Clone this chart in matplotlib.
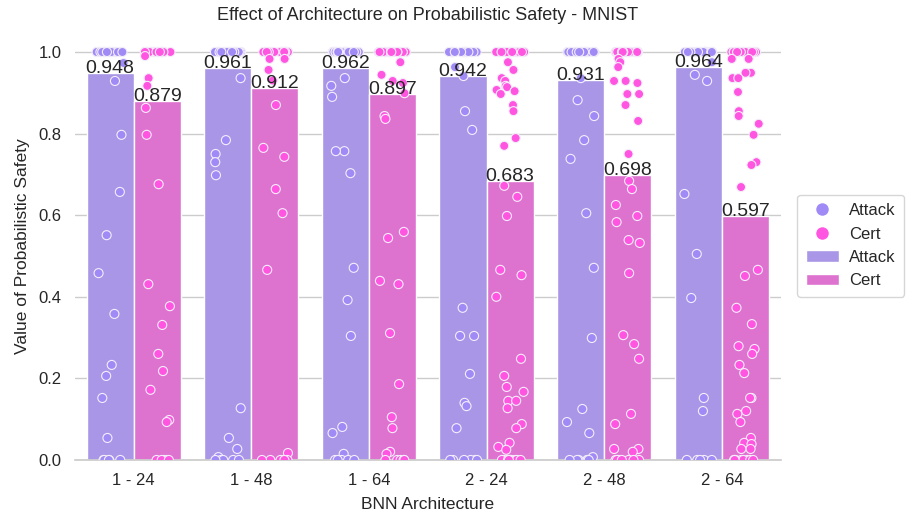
import numpy as np
import pandas as pd
import matplotlib
matplotlib.use("Agg")
import matplotlib.pyplot as plt
from matplotlib.lines import Line2D
from matplotlib.patches import Patch
import seaborn as sns

architectures = ["1 - 24", "1 - 48", "1 - 64", "2 - 24", "2 - 48", "2 - 64"]
attack_means = [0.948, 0.961, 0.962, 0.942, 0.931, 0.964]
cert_means = [0.879, 0.912, 0.897, 0.683, 0.698, 0.597]

# per-image safety values
attack_points = [
    [1.0] * 30 + [0.973, 0.929, 0.797, 0.657, 0.551, 0.458, 0.358, 0.233, 0.206, 0.152, 0.054] + [0.0] * 5,
    [1.0] * 30 + [0.936, 0.784, 0.75, 0.73, 0.698, 0.127, 0.054, 0.027, 0.007] + [0.0] * 5,
    [1.0] * 30 + [0.936, 0.917, 0.89, 0.757, 0.757, 0.703, 0.471, 0.392, 0.304, 0.081, 0.066, 0.015] + [0.0] * 5,
    [1.0] * 30 + [0.963, 0.941, 0.855, 0.809, 0.373, 0.304, 0.304, 0.211, 0.14, 0.132, 0.078] + [0.0] * 6,
    [1.0] * 30 + [0.936, 0.882, 0.843, 0.784, 0.738, 0.605, 0.471, 0.299, 0.125, 0.093, 0.066, 0.007] + [0.0] * 6,
    [1.0] * 30 + [0.975, 0.944, 0.929, 0.652, 0.505, 0.397, 0.152, 0.12] + [0.0] * 5,
]
cert_points = [
    [1.0] * 30 + [0.99, 0.936, 0.917, 0.863, 0.797, 0.676, 0.431, 0.377, 0.331, 0.26, 0.218, 0.172,
                  0.098, 0.093] + [0.0] * 6,
    [1.0] * 30 + [0.983, 0.983, 0.956, 0.93, 0.87, 0.765, 0.743, 0.664, 0.605, 0.466, 0.017] + [0.0] * 6,
    [1.0] * 30 + [0.975, 0.944, 0.929, 0.924, 0.899, 0.843, 0.836, 0.559, 0.544, 0.439, 0.431, 0.311,
                  0.186, 0.105, 0.078, 0.02, 0.015] + [0.0] * 6,
    [1.0] * 30 + [0.975, 0.956, 0.936, 0.929, 0.917, 0.914, 0.907, 0.904, 0.897, 0.87, 0.855, 0.789,
                  0.77, 0.672, 0.645, 0.598, 0.466, 0.453, 0.4, 0.248, 0.206, 0.179, 0.167, 0.145,
                  0.145, 0.127, 0.088, 0.078, 0.042, 0.032, 0.025] + [0.0] * 12,
    [1.0] * 30 + [0.983, 0.975, 0.963, 0.929, 0.929, 0.924, 0.897, 0.897, 0.87, 0.831, 0.75, 0.684,
                  0.664, 0.625, 0.598, 0.583, 0.539, 0.532, 0.458, 0.306, 0.284, 0.248, 0.113, 0.088,
                  0.027, 0.027, 0.02] + [0.0] * 10,
    [1.0] * 30 + [0.983, 0.983, 0.949, 0.949, 0.936, 0.936, 0.902, 0.855, 0.843, 0.824, 0.797, 0.73,
                  0.723, 0.669, 0.466, 0.451, 0.373, 0.333, 0.279, 0.272, 0.26, 0.233, 0.213, 0.152,
                  0.152, 0.12, 0.113, 0.093, 0.054, 0.042, 0.039, 0.027, 0.027] + [0.0] * 10,
]

bar_colors = {"Attack": "#a996e6", "Cert": "#de72cf"}
point_colors = {"Attack": "#a08af5", "Cert": "#ff55e0"}

sns.set_theme(style="whitegrid")
plt.rcParams["font.family"] = ["Liberation Sans", "DejaVu Sans"]

means_df = pd.DataFrame({
    "arch": architectures * 2,
    "method": ["Attack"] * 6 + ["Cert"] * 6,
    "value": attack_means + cert_means,
})
rows = []
for arch, pts in zip(architectures, attack_points):
    rows += [(arch, "Attack", v) for v in pts]
for arch, pts in zip(architectures, cert_points):
    rows += [(arch, "Cert", v) for v in pts]
points_df = pd.DataFrame(rows, columns=["arch", "method", "value"])

fig, ax = plt.subplots(figsize=(9.12, 5.18), dpi=100)
fig.subplots_adjust(left=0.082, right=0.856, bottom=0.112, top=0.939)

sns.barplot(data=means_df, x="arch", y="value", hue="method", order=architectures,
            hue_order=["Attack", "Cert"], palette=bar_colors, saturation=1,
            errorbar=None, edgecolor="white", linewidth=1, legend=False, ax=ax)

np.random.seed(3)
sns.stripplot(data=points_df, x="arch", y="value", hue="method", order=architectures,
              hue_order=["Attack", "Cert"], palette=point_colors, dodge=True, jitter=0.24,
              size=6.5, edgecolor="#f4eefa", linewidth=0.8, legend=False, ax=ax, zorder=3)

# value labels on top of the bars
for container in ax.containers:
    for bar in container:
        h = bar.get_height()
        ax.text(bar.get_x() + bar.get_width() / 2, h, f"{h:.3f}",
                ha="center", va="baseline", fontsize=14, color="#262626", zorder=4)

ax.set_xlim(-0.5, 5.5)
ax.set_ylim(0, 1.05)
ax.xaxis.grid(False)
ax.set_title("Effect of Architecture on Probabilistic Safety - MNIST", fontsize=13, pad=8)
ax.set_xlabel("BNN Architecture", fontsize=12.5, labelpad=6)
ax.set_ylabel("Value of Probabilistic Safety", fontsize=12.5, labelpad=6)
ax.tick_params(axis="both", labelsize=12)
sns.despine(left=True)

handles = [
    Line2D([], [], marker="o", linestyle="", markersize=10, markerfacecolor=point_colors["Attack"],
           markeredgecolor="white"),
    Line2D([], [], marker="o", linestyle="", markersize=10, markerfacecolor=point_colors["Cert"],
           markeredgecolor="white"),
    Patch(facecolor=bar_colors["Attack"]),
    Patch(facecolor=bar_colors["Cert"]),
]
ax.legend(handles, ["Attack", "Cert", "Attack", "Cert"], loc="center left",
          bbox_to_anchor=(1.012, 0.5), fontsize=12, frameon=True, borderpad=0.5,
          handletextpad=0.6)

fig.savefig("out.png", dpi=100)
